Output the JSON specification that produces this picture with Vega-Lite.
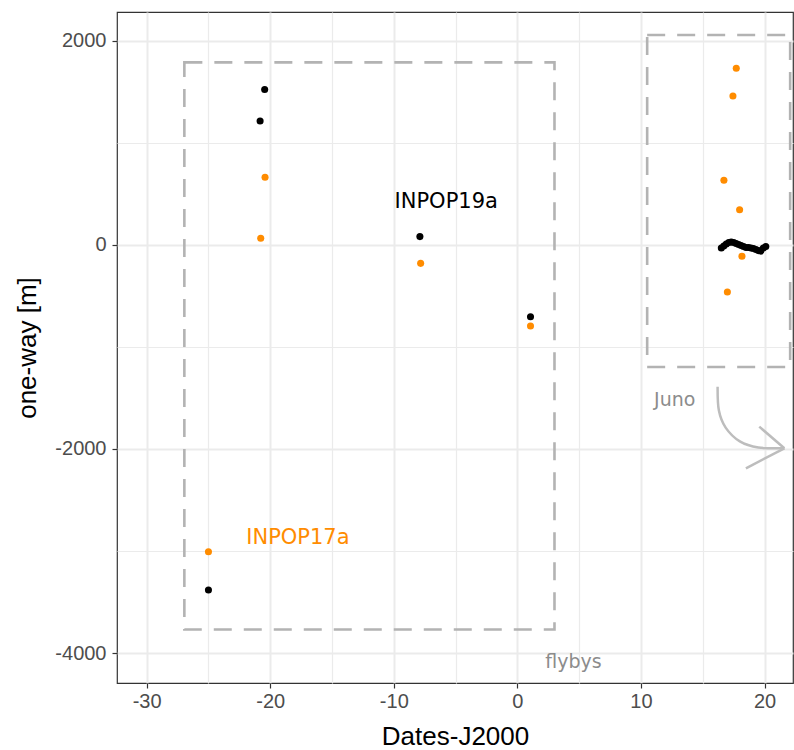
{
  "$schema": "https://vega.github.io/schema/vega-lite/v6.json",
  "width": 676,
  "height": 671,
  "autosize": "none",
  "padding": {"left": 117, "top": 12, "right": 1, "bottom": 67},
  "background": "white",
  "config": {
    "view": {"stroke": "#333333", "strokeWidth": 1.2},
    "font": "Liberation Sans"
  },
  "datasets": {
    "boxes": [
      {"region": "flybys", "x1": -26.95, "x2": 3.0, "y1": -3770, "y2": 1790},
      {"region": "Juno", "x1": 10.5, "x2": 22.07, "y1": -1196, "y2": 2059}
    ],
    "points": [
      {"date": -20.45, "oneway": 1525, "model": "INPOP19a"},
      {"date": -20.82, "oneway": 1216, "model": "INPOP19a"},
      {"date": -7.89, "oneway": 82, "model": "INPOP19a"},
      {"date": 1.06, "oneway": -703, "model": "INPOP19a"},
      {"date": -25.0, "oneway": -3382, "model": "INPOP19a"},
      {"date": 16.5, "oneway": -30, "model": "INPOP19a"},
      {"date": 16.7, "oneway": -10, "model": "INPOP19a"},
      {"date": 16.9, "oneway": 10, "model": "INPOP19a"},
      {"date": 17.1, "oneway": 25, "model": "INPOP19a"},
      {"date": 17.3, "oneway": 30, "model": "INPOP19a"},
      {"date": 17.5, "oneway": 25, "model": "INPOP19a"},
      {"date": 17.7, "oneway": 15, "model": "INPOP19a"},
      {"date": 17.9, "oneway": 5, "model": "INPOP19a"},
      {"date": 18.1, "oneway": -5, "model": "INPOP19a"},
      {"date": 18.3, "oneway": -15, "model": "INPOP19a"},
      {"date": 18.5, "oneway": -25, "model": "INPOP19a"},
      {"date": 18.7, "oneway": -25, "model": "INPOP19a"},
      {"date": 18.9, "oneway": -30, "model": "INPOP19a"},
      {"date": 19.1, "oneway": -35, "model": "INPOP19a"},
      {"date": 19.3, "oneway": -45, "model": "INPOP19a"},
      {"date": 19.5, "oneway": -55, "model": "INPOP19a"},
      {"date": 19.7, "oneway": -60, "model": "INPOP19a"},
      {"date": 19.9, "oneway": -30, "model": "INPOP19a"},
      {"date": 20.1, "oneway": -15, "model": "INPOP19a"},
      {"date": -20.42, "oneway": 664, "model": "INPOP17a"},
      {"date": -20.77, "oneway": 66, "model": "INPOP17a"},
      {"date": -7.83, "oneway": -180, "model": "INPOP17a"},
      {"date": 1.06, "oneway": -794, "model": "INPOP17a"},
      {"date": -25.0, "oneway": -3007, "model": "INPOP17a"},
      {"date": 17.71, "oneway": 1732, "model": "INPOP17a"},
      {"date": 17.44, "oneway": 1461, "model": "INPOP17a"},
      {"date": 16.71, "oneway": 634, "model": "INPOP17a"},
      {"date": 17.98, "oneway": 346, "model": "INPOP17a"},
      {"date": 18.17, "oneway": -111, "model": "INPOP17a"},
      {"date": 16.99, "oneway": -461, "model": "INPOP17a"}
    ],
    "modelLabels": [
      {"date": -5.76, "oneway": 422, "model": "INPOP19a"},
      {"date": -17.76, "oneway": -2873, "model": "INPOP17a"}
    ],
    "regionLabels": [
      {"date": 4.54, "oneway": -4085, "text": "flybys"},
      {"date": 12.73, "oneway": -1520, "text": "Juno"}
    ],
    "arrow": [
      {"part": "curve", "ord": 1, "date": 16.2, "oneway": -1389},
      {"part": "curve", "ord": 2, "date": 16.3, "oneway": -1620},
      {"part": "curve", "ord": 3, "date": 16.85, "oneway": -1790},
      {"part": "curve", "ord": 4, "date": 18.0, "oneway": -1925},
      {"part": "curve", "ord": 5, "date": 19.5, "oneway": -1985},
      {"part": "curve", "ord": 6, "date": 21.6, "oneway": -1993},
      {"part": "head1", "ord": 1, "date": 19.57, "oneway": -1781},
      {"part": "head1", "ord": 2, "date": 21.6, "oneway": -1993},
      {"part": "head2", "ord": 1, "date": 18.49, "oneway": -2189},
      {"part": "head2", "ord": 2, "date": 21.6, "oneway": -1993}
    ]
  },
  "encoding": {
    "x": {
      "field": "date",
      "type": "quantitative",
      "scale": {"domain": [-32.4, 22.3], "nice": false, "zero": false},
      "axis": {
        "title": "Dates-J2000",
        "values": [-30, -25, -20, -15, -10, -5, 0, 5, 10, 15, 20],
        "labelExpr": "datum.value % 10 === 0 ? '' + datum.value : ''",
        "domain": false,
        "grid": true,
        "gridColor": "#EBEBEB",
        "gridWidth": {"condition": {"test": "datum.value % 10 !== 0", "value": 1.2}, "value": 2},
        "tickColor": "#333333",
        "tickOpacity": {"condition": {"test": "datum.value % 10 !== 0", "value": 0}, "value": 1},
        "tickSize": 5,
        "tickWidth": 1.2,
        "labelColor": "#4D4D4D",
        "labelFontSize": 20,
        "labelPadding": 3,
        "labelFlush": false,
        "labelOverlap": false,
        "titleColor": "#000000",
        "titleFontSize": 26,
        "titleFontWeight": "normal",
        "titlePadding": 12
      }
    },
    "y": {
      "field": "oneway",
      "type": "quantitative",
      "scale": {"domain": [-4294, 2284], "nice": false, "zero": false},
      "axis": {
        "title": "one-way [m]",
        "values": [-4000, -3000, -2000, -1000, 0, 1000, 2000],
        "labelExpr": "datum.value % 2000 === 0 ? '' + datum.value : ''",
        "domain": false,
        "grid": true,
        "gridColor": "#EBEBEB",
        "gridWidth": {"condition": {"test": "datum.value % 2000 !== 0", "value": 1.2}, "value": 2},
        "tickColor": "#333333",
        "tickOpacity": {"condition": {"test": "datum.value % 2000 !== 0", "value": 0}, "value": 1},
        "tickSize": 5,
        "tickWidth": 1.2,
        "labelColor": "#4D4D4D",
        "labelFontSize": 20,
        "labelPadding": 6,
        "labelFlush": false,
        "labelOverlap": false,
        "titleColor": "#000000",
        "titleFontSize": 26,
        "titleFontWeight": "normal",
        "titlePadding": 14
      }
    }
  },
  "layer": [
    {
      "data": {"name": "boxes"},
      "mark": {"type": "rect", "fill": null, "fillOpacity": 0, "stroke": "#B3B3B3", "strokeWidth": 2.6, "strokeDash": [18, 12]},
      "encoding": {
        "x": {"field": "x1", "type": "quantitative"},
        "x2": {"field": "x2"},
        "y": {"field": "y1", "type": "quantitative"},
        "y2": {"field": "y2"}
      }
    },
    {
      "data": {"name": "arrow"},
      "mark": {"type": "line", "color": "#BDBDBD", "strokeWidth": 2.5, "interpolate": "cardinal"},
      "encoding": {
        "detail": {"field": "part"},
        "order": {"field": "ord", "type": "quantitative"}
      }
    },
    {
      "data": {"name": "points"},
      "mark": {"type": "circle", "size": 50, "opacity": 1},
      "encoding": {
        "color": {
          "field": "model",
          "type": "nominal",
          "scale": {"domain": ["INPOP19a", "INPOP17a"], "range": ["#000000", "#FF8C00"]},
          "legend": null
        }
      }
    },
    {
      "data": {"name": "modelLabels"},
      "mark": {"type": "text", "font": "DejaVu Sans", "fontSize": 21, "align": "center", "baseline": "middle"},
      "encoding": {
        "text": {"field": "model"},
        "color": {"field": "model", "type": "nominal", "legend": null}
      }
    },
    {
      "data": {"name": "regionLabels"},
      "mark": {"type": "text", "font": "DejaVu Sans", "fontSize": 19, "color": "#8C8C8C", "align": "center", "baseline": "middle"},
      "encoding": {
        "text": {"field": "text"}
      }
    }
  ]
}
